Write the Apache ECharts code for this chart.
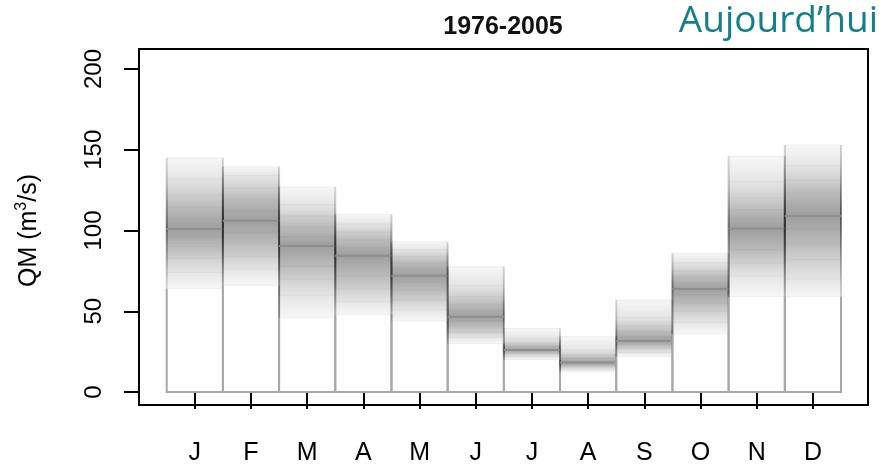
<!DOCTYPE html>
<html>
<head>
<meta charset="utf-8">
<script src="https://cdn.jsdelivr.net/npm/echarts@6/dist/echarts.min.js"></script>
<style>html,body{margin:0;padding:0;background:#fff;}#c{width:884px;height:469px;}</style>
</head>
<body>
<div id="c"></div>
<script>
// Month labels
const months = ['J','F','M','A','M','J','J','A','S','O','N','D'];
// Y tick labels
const yTicks = [0, 50, 100, 150, 200];
// Ensemble quantiles of monthly discharge QM (m3/s), per month
const q00 = [64, 66, 46, 48, 44, 30, 20, 12.5, 22, 36, 59, 59];
const q10 = [74, 76, 60, 56, 51, 34, 22, 14, 24.5, 43, 72, 70];
const q20 = [83, 84, 70, 64, 57, 37, 23.5, 15.5, 27, 50, 80, 82];
const q30 = [90, 92, 78, 72, 63, 41, 24.5, 16.5, 29, 55, 88, 92];
const q40 = [96, 99, 85, 79, 68, 44, 25.5, 17.5, 30.5, 60, 95, 101];
const q50 = [101, 106, 90.4, 84.4, 72, 46.6, 26, 18.2, 31.6, 63.8, 101.3, 109];
const q60 = [107, 112, 96, 89, 76, 50, 27, 19.5, 34, 67, 107, 116];
const q70 = [114, 119, 102, 94, 80, 54, 28.5, 21, 37, 71, 113, 123];
const q80 = [122, 126, 109, 99, 84, 59, 30, 23, 41, 75, 120, 131];
const q90 = [132, 134, 116, 104, 88, 66, 33, 26, 46, 80, 130, 140];
const q100 = [145, 139.5, 127, 110, 93, 77.6, 39.4, 34.3, 57, 86, 146, 153];

const quantiles = [q00, q10, q20, q30, q40, q50, q60, q70, q80, q90, q100];
const seriesData = months.map((m, i) => [i].concat(quantiles.map(q => q[i])));

// shading opacity from the median (index 0) outwards to the extremes (index 5)
const shadeLevels = [0.38, 0.33, 0.27, 0.19, 0.1, 0.03];

const chart = echarts.init(document.getElementById('c'), null, {renderer: 'canvas'});

function grad(aTop, aBottom, extra) {
  return new echarts.graphic.LinearGradient(0, 0, 0, 1, [
    {offset: 0, color: 'rgba(0,0,0,' + Math.min(1, aTop + extra) + ')'},
    {offset: 1, color: 'rgba(0,0,0,' + Math.min(1, aBottom + extra) + ')'}
  ]);
}

function renderItem(params, api) {
  const i = api.value(0);
  const vals = [];
  for (let k = 1; k <= 11; k++) vals.push(api.value(k));
  const w = api.size([1, 0])[0];
  const base = api.coord([i, 0]);
  const x0 = base[0] - w / 2;
  const x1 = base[0] + w / 2;
  const y0 = base[1];
  const ys = vals.map(v => api.coord([i, v])[1]);
  const yMed = ys[5];
  const children = [];
  // base outline from 0 up to the lowest member
  children.push({
    type: 'polyline',
    shape: {points: [[x0, ys[0]], [x0, y0], [x1, y0], [x1, ys[0]]]},
    style: {stroke: '#a8a8a8', lineWidth: 2, fill: null}
  });
  // shaded bands
  for (let k = 0; k < 10; k++) {
    const yA = ys[k], yB = ys[k + 1];
    const top = Math.min(yA, yB), h = Math.abs(yA - yB);
    if (h <= 0) continue;
    let aTop, aBot;
    if (k < 5) {
      aTop = shadeLevels[5 - (k + 1)];
      aBot = shadeLevels[5 - k];
    } else {
      aBot = shadeLevels[k - 5];
      aTop = shadeLevels[k - 4];
    }
    children.push({
      type: 'rect',
      shape: {x: x0, y: top, width: w, height: h},
      style: {fill: grad(aTop, aBot, 0)}
    });
    children.push({
      type: 'rect',
      shape: {x: x0 - 1, y: top, width: 2, height: h},
      style: {fill: grad(aTop, aBot, 0.12)}
    });
    children.push({
      type: 'rect',
      shape: {x: x1 - 1, y: top, width: 2, height: h},
      style: {fill: grad(aTop, aBot, 0.12)}
    });
  }
  // fine stripes at each member
  for (let k = 0; k < 11; k++) {
    if (k === 5) continue;
    children.push({
      type: 'line',
      shape: {x1: x0, y1: ys[k], x2: x1, y2: ys[k]},
      style: {stroke: 'rgba(0,0,0,0.05)', lineWidth: 1}
    });
  }
  // median
  children.push({
    type: 'line',
    shape: {x1: x0, y1: yMed, x2: x1, y2: yMed},
    style: {stroke: '#8e8e8e', lineWidth: 2}
  });
  return {type: 'group', children: children};
}

const option = {
  backgroundColor: '#ffffff',
  animation: false,
  textStyle: {fontFamily: 'Liberation Sans'},
  title: [
    {
      text: '1976-2005', left: 503, top: 15, textAlign: 'center', padding: 0,
      textStyle: {fontFamily: 'Liberation Sans', fontWeight: 'bold', fontSize: 25, color: '#111'}
    },
    {
      text: 'Aujourd\u2019hui', right: 6, top: 3, padding: 0,
      textStyle: {fontFamily: 'Open Sans', fontWeight: 'normal', fontSize: 37, color: '#137f8e'}
    }
  ],
  grid: [
    {left: 139, top: 49, right: 16, bottom: 64, show: true, borderColor: '#000', borderWidth: 2, backgroundColor: 'transparent'},
    {left: 166.7, top: 69, right: 43, bottom: 77}
  ],
  xAxis: [
    {type: 'value', gridIndex: 0, show: false, min: 0, max: 1},
    {
      type: 'category', gridIndex: 1, data: months, offset: 13,
      axisLine: {show: false},
      axisTick: {show: true, alignWithLabel: true, length: 17, lineStyle: {color: '#000', width: 2}},
      axisLabel: {margin: 36, fontFamily: 'Liberation Sans', fontSize: 25, color: '#000'},
      splitLine: {show: false}
    }
  ],
  yAxis: [
    {type: 'value', gridIndex: 0, show: false, min: 0, max: 1},
    {
      type: 'value', gridIndex: 1, min: yTicks[0], max: yTicks[yTicks.length - 1], interval: 50, offset: 27.7,
      name: '{a|QM (m}{s|3}{a|/s)}', nameLocation: 'middle', nameGap: 95, nameRotate: 90,
      nameTextStyle: {
        fontFamily: 'Liberation Sans', fontSize: 25, color: '#000',
        rich: {
          a: {fontFamily: 'Liberation Sans', fontSize: 25, color: '#000'},
          s: {fontFamily: 'Liberation Sans', fontSize: 16, color: '#000', padding: [0, 0, 14, 0]}
        }
      },
      axisLine: {show: false},
      axisTick: {show: true, length: 15, lineStyle: {color: '#000', width: 2}},
      axisLabel: {rotate: 90, margin: 32.5, fontFamily: 'Liberation Sans', fontSize: 24, color: '#000'},
      splitLine: {show: false}
    }
  ],
  series: [{
    type: 'custom',
    xAxisIndex: 1,
    yAxisIndex: 1,
    renderItem: renderItem,
    data: seriesData,
    encode: {x: 0, y: [1, 11]},
    clip: false
  }]
};
chart.setOption(option);
</script>
</body>
</html>
